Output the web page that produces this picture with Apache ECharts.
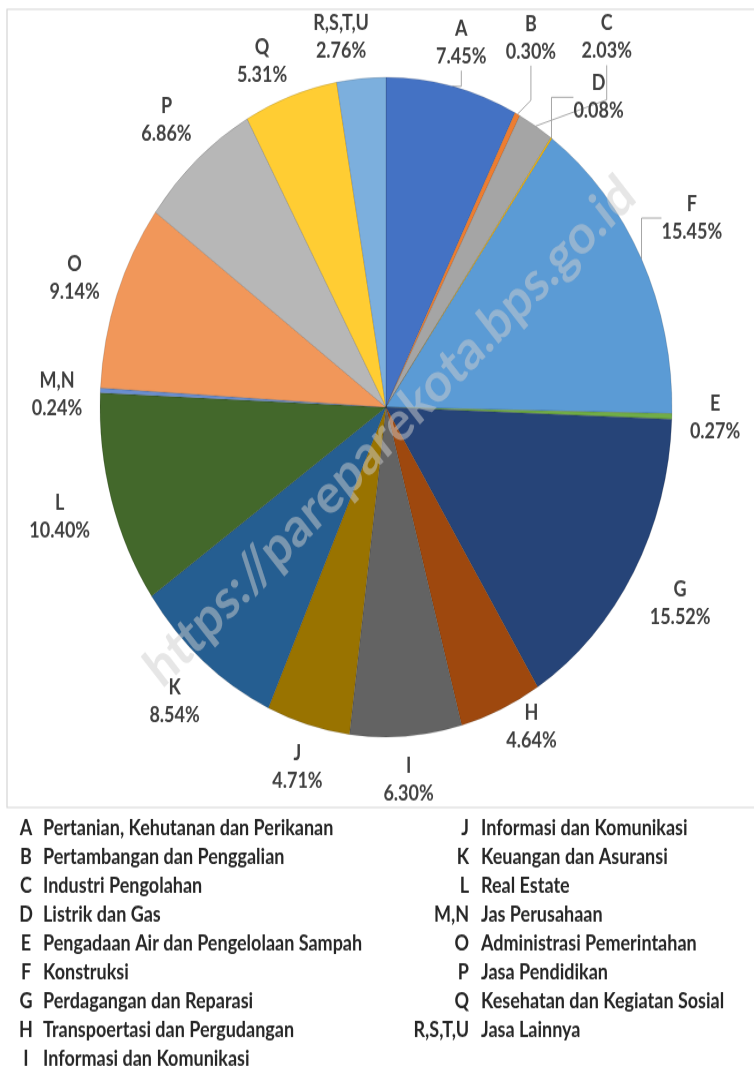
<!DOCTYPE html>
<html>
<head>
<meta charset="utf-8">
<script src="https://cdn.jsdelivr.net/npm/echarts@6/dist/echarts.min.js"></script>
<style>
    html, body { margin: 0; padding: 0; background: #fff; }
    #frame { width: 754px; height: 1067px; overflow: hidden; }
    /* the source picture is stretched vertically, so the chart is drawn unstretched and scaled */
    #pieChart { width: 754px; height: 1000px; transform: scaleY(1.1535); transform-origin: 0 0; }
</style>
</head>
<body>
<div id="frame"><div id="pieChart"></div></div>
<script>
// order of the slices clockwise from 12 o'clock, as drawn
const sectors = ['A', 'B', 'C', 'D', 'F', 'E', 'G', 'H', 'I', 'J', 'K', 'L', 'M,N', 'O', 'P', 'Q', 'R,S,T,U'];
const shares = [7.45, 0.30, 2.03, 0.08, 15.45, 0.27, 15.52, 4.64, 6.30, 4.71, 8.54, 10.40, 0.24, 9.14, 6.86, 5.31, 2.76];
const sliceColors = ['#4472C4', '#ED7D31', '#A5A5A5', '#FFC000', '#5B9BD5', '#70AD47', '#264478', '#9E480E',
    '#636363', '#997300', '#255E91', '#43682B', '#698ED0', '#F1975A', '#B7B7B7', '#FFCD33', '#7CAFDD'];

const legendLeft = ['A', 'B', 'C', 'D', 'E', 'F', 'G', 'H', 'I'];
const legendRight = ['J', 'K', 'L', 'M,N', 'O', 'P', 'Q', 'R,S,T,U'];
const sectorNames = {
    'A': 'Pertanian, Kehutanan dan Perikanan',
    'B': 'Pertambangan dan Penggalian',
    'C': 'Industri Pengolahan',
    'D': 'Listrik dan Gas',
    'E': 'Pengadaan Air dan Pengelolaan Sampah',
    'F': 'Konstruksi',
    'G': 'Perdagangan dan Reparasi',
    'H': 'Transpoertasi dan Pergudangan',
    'I': 'Informasi dan Komunikasi',
    'J': 'Informasi dan Komunikasi',
    'K': 'Keuangan dan Asuransi',
    'L': 'Real Estate',
    'M,N': 'Jas Perusahaan',
    'O': 'Administrasi Pemerintahan',
    'P': 'Jasa Pendidikan',
    'Q': 'Kesehatan dan Kegiatan Sosial',
    'R,S,T,U': 'Jasa Lainnya'
};

// labels that get a leader line, and small label nudges [degrees, px]
const leaderLines = ['A', 'B', 'C', 'D', 'F'];
const labelNudge = {
    'B': [-3, 25], 'C': [3, 60], 'D': [3, 12], 'F': [-1.5, 8], 'H': [-4, -14],
    'L': [0, 4], 'M,N': [-1, 0], 'R,S,T,U': [-3, 0], 'Q': [-3, -2]
};

const cx = 386, cy = 353, R = 286, labelGap = 14;
const font = 'Lato';

// mid angle of every slice (radians, clockwise from top)
const total = shares.reduce((a, b) => a + b, 0);
let run = 0;
const midAngles = shares.map(v => {
    const m = (run + v / 2) / total * 2 * Math.PI;
    run += v;
    return m;
});

const chart = echarts.init(document.getElementById('pieChart'));

const legendText = (codeWidth, codeAlign, nameAlign, gap) => {
    const base = { fontFamily: font, fontWeight: 'bold', fontSize: 18, color: '#262626', lineHeight: 25 };
    return Object.assign({}, base, {
        rich: {
            c: Object.assign({ width: codeWidth, align: codeAlign }, base),
            n: Object.assign({ align: nameAlign, padding: [0, 0, 0, gap] }, base)
        }
    });
};

const legendBlock = (names, left, codeWidth, codeAlign, nameAlign, gap) => ({
    data: names,
    orient: 'vertical',
    left: left,
    top: 706,
    height: 290,
    padding: 0,
    icon: 'none',
    itemWidth: 0,
    itemHeight: 10,
    itemGap: 0,
    selectedMode: false,
    formatter: name => `{c|${name}}{n|${sectorNames[name]}}`,
    textStyle: legendText(codeWidth, codeAlign, nameAlign, gap)
});

chart.setOption({
    animation: false,
    graphic: [
        {
            type: 'rect',
            silent: true,
            shape: { x: 7, y: 8, width: 800, height: 692 },
            style: { fill: null, stroke: '#d4d4d4', lineWidth: 1.2 }
        },
        {
            type: 'text',
            silent: true,
            z: 100,
            x: 390,
            y: 374,
            rotation: 0.728,
            style: {
                text: 'https://pareparekota.bps.go.id',
                font: 'bold 48px Lato',
                fill: 'rgba(205,205,205,0.5)',
                align: 'center',
                verticalAlign: 'middle'
            }
        }
    ],
    legend: [
        legendBlock(legendLeft, 9, 24, 'center', null, 5),
        legendBlock(legendRight, 394, 70, 'right', 'right', 12)
    ],
    series: [{
        type: 'pie',
        center: [cx, cy],
        radius: R,
        startAngle: 90,
        clockwise: true,
        avoidLabelOverlap: false,
        itemStyle: {
            borderColor: 'rgba(0,0,0,0.18)',
            borderWidth: 0.8
        },
        label: {
            show: true,
            position: 'outside',
            formatter: p => p.name + '\n' + p.value.toFixed(2) + '%',
            fontFamily: font,
            fontWeight: 'bold',
            fontSize: 18,
            lineHeight: 24,
            color: '#404040'
        },
        labelLine: {
            show: false,
            lineStyle: { color: '#a6a6a6', width: 1 }
        },
        labelLayout: params => {
            const i = params.dataIndex;
            const nudge = labelNudge[sectors[i]] || [0, 0];
            const a = midAngles[i] + nudge[0] * Math.PI / 180;
            const s = Math.abs(Math.sin(a)), c = Math.abs(Math.cos(a));
            const hw = params.labelRect.width / 2 + 4, hh = params.labelRect.height / 2;
            const extent = Math.min(s > 0.01 ? hw / s : 1e9, c > 0.01 ? hh / c : 1e9);
            const rr = R + labelGap + extent + nudge[1];
            return {
                x: cx + rr * Math.sin(a),
                y: cy - rr * Math.cos(a),
                align: 'center',
                verticalAlign: 'middle'
            };
        },
        data: sectors.map((name, i) => ({
            name: name,
            value: shares[i],
            itemStyle: { color: sliceColors[i] },
            labelLine: { show: leaderLines.includes(name) }
        }))
    }]
});
</script>
</body>
</html>
